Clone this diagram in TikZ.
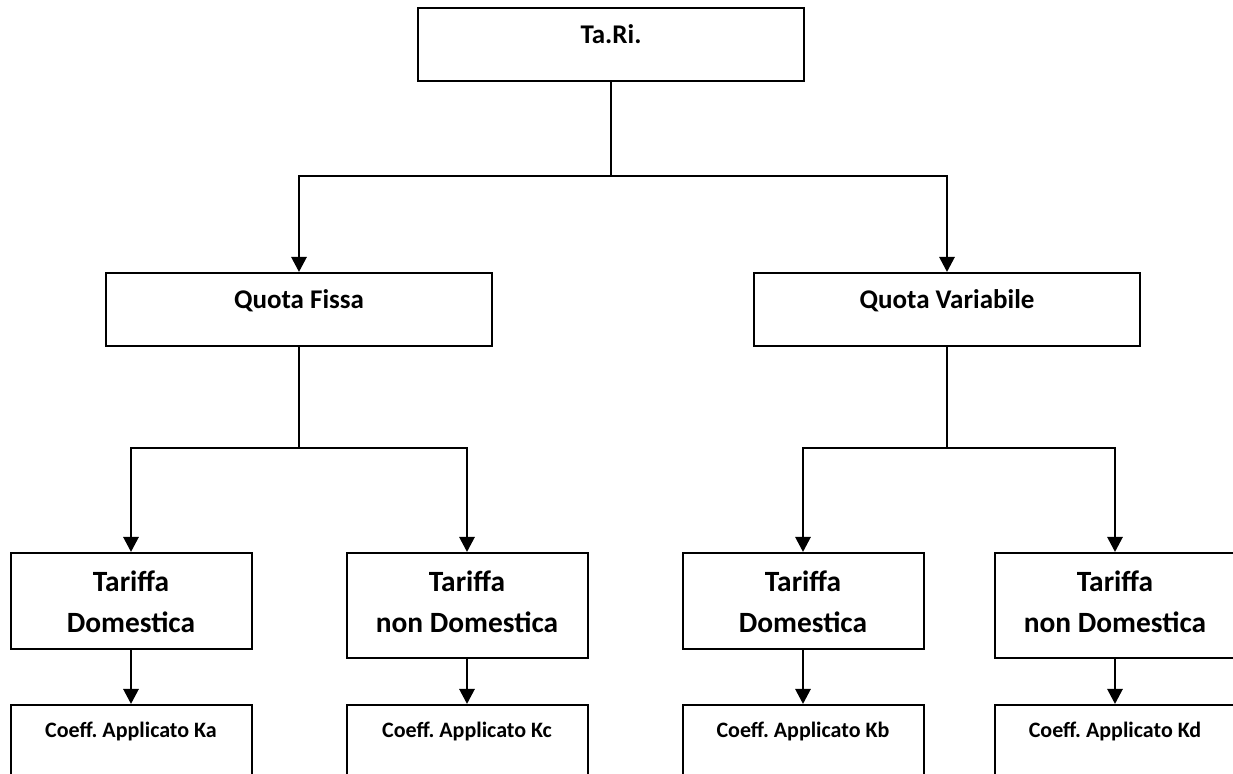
\documentclass[tikz,border=0pt]{standalone}
\usepackage{fontspec}
\setmainfont{Carlito}
\usetikzlibrary{arrows.meta}

\tikzset{
  box/.style={draw, line width=1pt, fill=white, align=center},
  headbox/.style={box, minimum width=193pt, text height=8pt, text depth=8.5pt, inner ysep=10pt,
    font=\bfseries\fontsize{13.5}{16}\selectfont},
  tarbox/.style={box, minimum width=120.5pt, text height=35.85pt, text depth=4.15pt, inner ysep=4pt,
    font=\bfseries\fontsize{14.7}{20.5}\selectfont},
  tarnonbox/.style={tarbox, text depth=8.65pt},
  coefbox/.style={box, minimum width=120.5pt, text height=7pt, text depth=45pt, inner ysep=9.5pt,
    font=\bfseries\fontsize{11}{13}\selectfont},
  link/.style={line width=1.4pt},
  arrow/.style={link, -{Triangle[width=7.5pt,length=7.5pt]}}
}

\begin{document}
\begin{tikzpicture}[x=0.5pt, y=-0.5pt]
  \clip (0,0) rectangle (1233,774);
  \fill[white] (0,0) rectangle (1233,774);

  \begin{scope}[every node/.append style={anchor=north}]
    \node[headbox] (tari)   at (611,7)   {Ta.Ri.};
    \node[headbox] (qfissa) at (299,272) {Quota Fissa};
    \node[headbox] (qvar)   at (947,272) {Quota Variabile};

    \node[tarbox]    (tdomf) at (131,552)  {Tariffa\\Domestica};
    \node[tarnonbox] (tnonf) at (467,552)  {Tariffa\\non Domestica};
    \node[tarbox]    (tdomv) at (803,552)  {Tariffa\\Domestica};
    \node[tarnonbox] (tnonv) at (1115,552) {Tariffa\\non Domestica};

    \node[coefbox] (ka) at (131,704)  {Coeff.\ Applicato Ka};
    \node[coefbox] (kc) at (467,704)  {Coeff.\ Applicato Kc};
    \node[coefbox] (kb) at (803,704)  {Coeff.\ Applicato Kb};
    \node[coefbox] (kd) at (1115,704) {Coeff.\ Applicato Kd};
  \end{scope}

  \coordinate (split)  at (611,176);
  \coordinate (splitf) at (299,448);
  \coordinate (splitv) at (947,448);

  % first level
  \draw[link]  (tari.south) -- (split);
  \draw[arrow] (split) -| (qfissa.north);
  \draw[arrow] (split) -| (qvar.north);

  % second level
  \draw[link]  (qfissa.south) -- (splitf);
  \draw[arrow] (splitf) -| (tdomf.north);
  \draw[arrow] (splitf) -| (tnonf.north);
  \draw[link]  (qvar.south) -- (splitv);
  \draw[arrow] (splitv) -| (tdomv.north);
  \draw[arrow] (splitv) -| (tnonv.north);

  % coefficients
  \draw[arrow] (tdomf) -- (ka);
  \draw[arrow] (tnonf) -- (kc);
  \draw[arrow] (tdomv) -- (kb);
  \draw[arrow] (tnonv) -- (kd);
\end{tikzpicture}
\end{document}
